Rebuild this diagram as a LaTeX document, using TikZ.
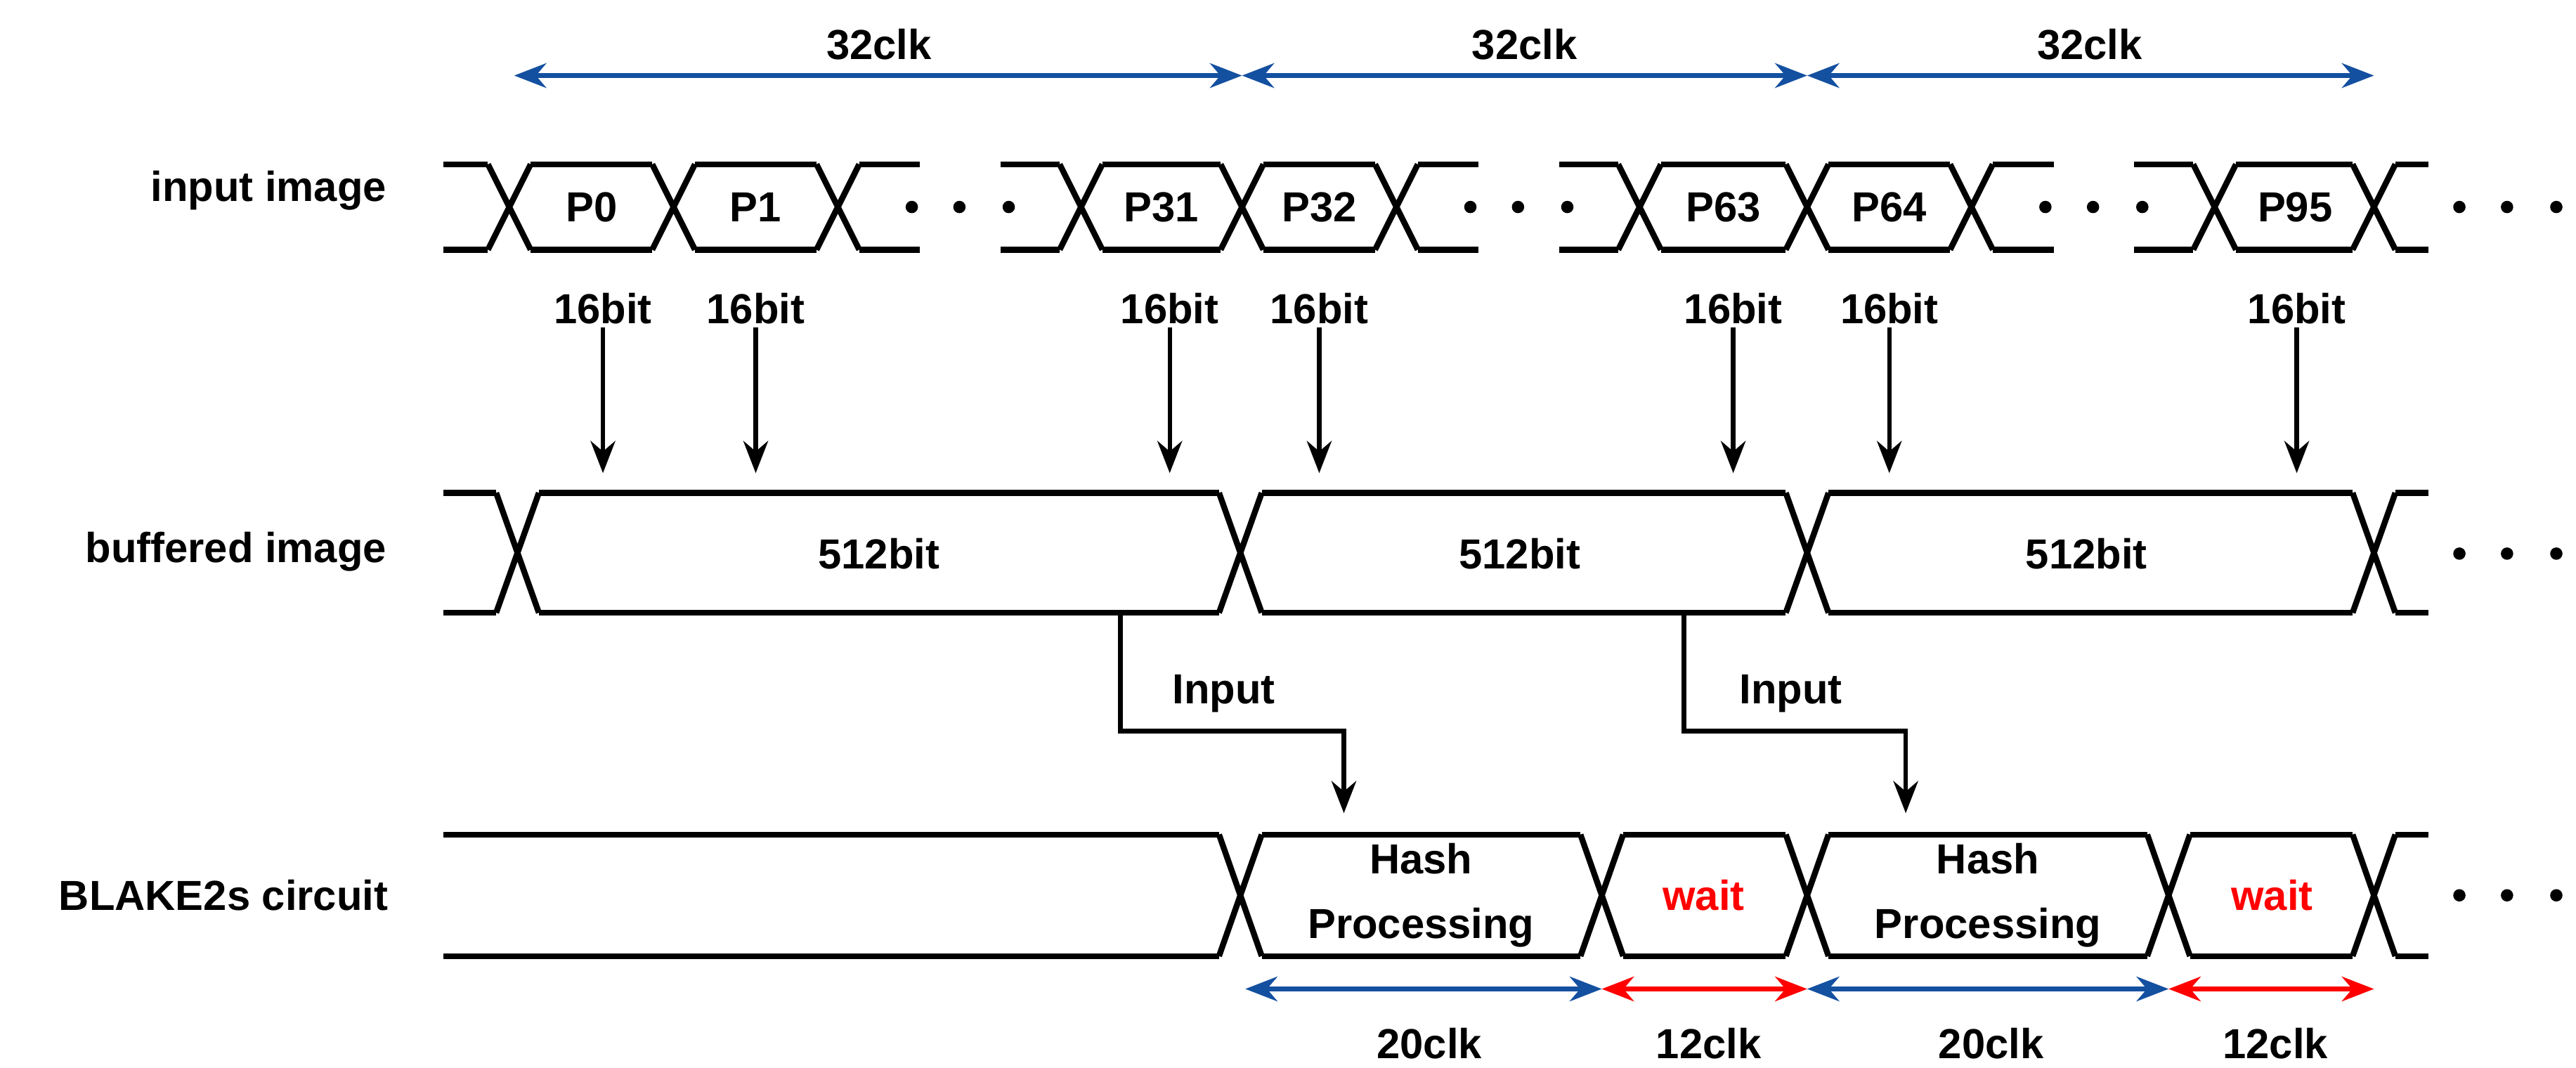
\documentclass[tikz,border=0pt]{standalone}
\usepackage{fontspec}
\setmainfont{Liberation Sans}
\usetikzlibrary{arrows.meta}
\definecolor{myblue}{RGB}{20,80,160}
\definecolor{myred}{RGB}{255,0,0}
\begin{document}
\begin{tikzpicture}[x=0.02338cm,y=-0.02338cm,
  bus/.style={line width=2.4pt,line join=miter},
  lab/.style={font=\fontsize{17}{22}\selectfont\bfseries,inner sep=1pt},
  arr/.style={line width=1.8pt,-{Stealth[length=13pt,width=10pt]}},
  dim/.style={line width=1.8pt,{Stealth[length=13pt,width=10pt]}-{Stealth[length=13pt,width=10pt]}},
  dot/.style={circle,fill=black,inner sep=0pt,minimum size=5pt}]
\useasboundingbox (0,0) rectangle (1568,650);
\def\hw{13}
\newcommand\xing[3]{\draw[bus] (#1-\hw,#2)--(#1+\hw,#3) (#1-\hw,#3)--(#1+\hw,#2);}
\newcommand\seg[4]{\draw[bus] (#1,#3)--(#2,#3) (#1,#4)--(#2,#4);}
% ---- Row 1
\def\T{100}\def\B{152}
\foreach \c in {310,410,510,658,756,850,998,1100,1200,1348,1445} {\xing{\c}{\T}{\B}}
\seg{270}{297}{\T}{\B}
\foreach \a/\b in {410/510,310/410,658/756,756/850,998/1100,1100/1200,1348/1445}{\seg{\a+\hw}{\b-\hw}{\T}{\B}}
\foreach \a/\b in {510/560,850/900,1200/1250,1445/1478}{\seg{\a+\hw}{\b}{\T}{\B}}
\foreach \a/\b in {609/658,949/998,1299/1348}{\seg{\a}{\b-\hw}{\T}{\B}}
\foreach \x in {555,584,614,895,924,954,1245,1274,1304,1497,1526,1556} {\node[dot] (d\x) at (\x,126) {};}
\node[lab] (p0) at (360,126) {P0};
\node[lab] (p1) at (460,126) {P1};
\node[lab] (p31) at (707,126) {P31};
\node[lab] (p32) at (803,126) {P32};
\node[lab] (p63) at (1049,126) {P63};
\node[lab] (p64) at (1150,126) {P64};
\node[lab] (p95) at (1397,126) {P95};
\node[lab,anchor=east] (l1) at (237,116) {input image};
% 32clk
\coordinate (t0) at (313,46);\coordinate (t1) at (756,46);\coordinate (t2) at (1100,46);\coordinate (t3) at (1445,46);
\draw[dim,myblue] (t0)--(t1);\draw[dim,myblue] (t1)--(t2);\draw[dim,myblue] (t2)--(t3);
\node[lab] (c1) at (535,27) {32clk};
\node[lab] (c2) at (928,27) {32clk};
\node[lab] (c3) at (1272,27) {32clk};
% 16bit arrows
\foreach \x [count=\i] in {367,460,712,803,1055,1150,1398}{
  \node[lab] (b\i) at (\x,188) {16bit};
  \coordinate (e\i) at (\x,288);
  \draw[arr] (b\i.south)--(e\i);}
% ---- Row 2
\def\T{300}\def\B{373}
\foreach \c in {315,755,1100,1445} {\xing{\c}{\T}{\B}}
\seg{270}{302}{\T}{\B}
\foreach \a/\b in {315/755,755/1100,1100/1445}{\seg{\a+\hw}{\b-\hw}{\T}{\B}}
\seg{1458}{1478}{\T}{\B}
\foreach \x in {1497,1526,1556} {\node[dot] (f\x) at (\x,337) {};}
\node[lab] (w1) at (535,337) {512bit};
\node[lab] (w2) at (925,337) {512bit};
\node[lab] (w3) at (1270,337) {512bit};
\node[lab,anchor=east] (l2) at (237,336) {buffered image};
% Input connectors
\coordinate (i1) at (682,373);\coordinate (j1) at (818,495);
\coordinate (i2) at (1025,373);\coordinate (j2) at (1160,495);
\draw[arr] (i1)|-(818,445)--(j1);
\draw[arr] (i2)|-(1160,445)--(j2);
\node[lab] (in1) at (745,422) {Input};
\node[lab] (in2) at (1090,422) {Input};
% ---- Row 3
\def\T{508}\def\B{582}
\foreach \c in {755,975,1100,1320,1445} {\xing{\c}{\T}{\B}}
\seg{270}{742}{\T}{\B}
\foreach \a/\b in {755/975,975/1100,1100/1320,1320/1445}{\seg{\a+\hw}{\b-\hw}{\T}{\B}}
\seg{1458}{1478}{\T}{\B}
\foreach \x in {1497,1526,1556} {\node[dot] (g\x) at (\x,545) {};}
\node[lab,align=center,font=\fontsize{17}{26}\selectfont\bfseries] (h1) at (865,545) {Hash\\Processing};
\node[lab,text=myred] (wa1) at (1037,545) {wait};
\node[lab,align=center,font=\fontsize{17}{26}\selectfont\bfseries] (h2) at (1210,545) {Hash\\Processing};
\node[lab,text=myred] (wa2) at (1383,545) {wait};
\node[lab,anchor=east] (l3) at (238,545) {BLAKE2s circuit};
% bottom dims
\coordinate (u0) at (758,602);\coordinate (u1) at (975,602);\coordinate (u2) at (1100,602);\coordinate (u3) at (1320,602);\coordinate (u4) at (1445,602);
\draw[dim,myblue] (u0)--(u1);\draw[dim,myred] (u1)--(u2);
\draw[dim,myblue] (u2)--(u3);\draw[dim,myred] (u3)--(u4);
\node[lab] (k1) at (870,635) {20clk};
\node[lab] (k2) at (1040,635) {12clk};
\node[lab] (k3) at (1212,635) {20clk};
\node[lab] (k4) at (1385,635) {12clk};
\end{tikzpicture}
\end{document}
